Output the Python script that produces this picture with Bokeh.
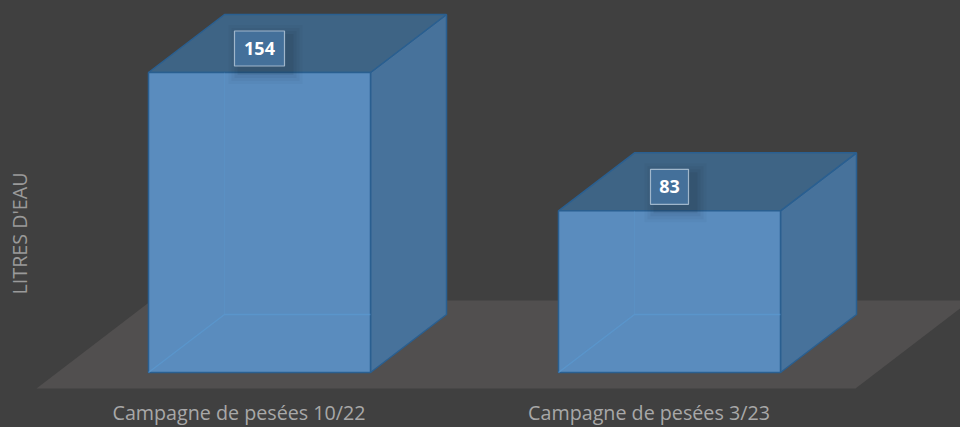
from math import pi
from bokeh.plotting import figure
from bokeh.models import Range1d, Label
from bokeh.core.properties import value
from bokeh.embed import file_html
from bokeh.resources import INLINE

categories = ["Campagne de pesées 10/22", "Campagne de pesées 3/23"]
litres = [154, 83]
axis_title = "LITRES D'EAU"

BG = "#404040"
FLOOR = "#514f4f"
FRONT = "#5b8ec2"
SIDE = "#47729b"
TOP = "#3e6485"
EDGE = "#2a5f90"
INNER = "#5a9bd4"

W, H = 960, 427
X0, XSTEP, BAR_W = 259, 410, 222     # first bar centre, spacing, width
Y0, PXU = 372, 300 / 154             # baseline pixel, pixels per litre
DX = 76 / XSTEP                      # depth in x units
DY = 58 / PXU                        # depth in y units
HW = BAR_W / XSTEP / 2

p = figure(width=W, height=H, output_backend="svg", toolbar_location=None,
           x_range=Range1d(-X0 / XSTEP, (W - X0) / XSTEP),
           y_range=Range1d((Y0 - H) / PXU, Y0 / PXU),
           min_border=0, margin=(0, 0, 0, 0),
           background_fill_color=None, border_fill_color=None, outline_line_color=None,
           styles={"background-color": BG})
p.grid.visible = False
p.xaxis.visible = False
p.yaxis.visible = False

# floor
fl_lo, fl_hi = -16 / PXU, 72 / PXU
fl_left = (36 - X0) / XSTEP
fl_right = (855 - X0) / XSTEP
fdx = 115 / XSTEP
p.patch([fl_left, fl_right, fl_right + fdx, fl_left + fdx], [fl_lo, fl_lo, fl_hi, fl_hi],
        fill_color=FLOOR, line_color=None)

idx = list(range(len(litres)))
# side faces
p.patches([[i + HW, i + HW + DX, i + HW + DX, i + HW] for i in idx],
          [[0, DY, v + DY, v] for v in litres],
          fill_color=SIDE, line_color=EDGE, line_width=1.5)
# top faces
p.patches([[i - HW, i - HW + DX, i + HW + DX, i + HW] for i in idx],
          [[v, v + DY, v + DY, v] for v in litres],
          fill_color=TOP, line_color=EDGE, line_width=1.5)
# front faces
p.vbar(x=idx, top=litres, bottom=0, width=2 * HW, fill_color=FRONT, fill_alpha=0.97,
       line_color=EDGE, line_width=1.5)
# hidden edges seen through the front
p.multi_line([[i - HW, i - HW + DX, i + HW] for i in idx], [[0, DY, DY] for v in litres],
             line_color=INNER, line_width=1.5, line_alpha=0.6)
p.multi_line([[i - HW + DX, i - HW + DX] for i in idx], [[DY, v] for v in litres],
             line_color=INNER, line_width=1, line_alpha=0.25)

# value labels
ly = [v + 24 / PXU for v in litres]
lw = [12 * len(str(v)) + 14 for v in litres]
for grow, a in [(24, 0.025), (18, 0.03), (12, 0.04), (6, 0.05)]:
    p.rect(x=[i + 6 / XSTEP for i in idx], y=[y - 6 / PXU for y in ly],
           width=[w + grow for w in lw], height=[35 + grow] * len(idx),
           width_units="screen", height_units="screen",
           fill_color="black", fill_alpha=a, line_color=None)
p.rect(x=idx, y=ly, width=lw, height=[35] * len(idx),
       width_units="screen", height_units="screen",
       fill_color="#44709a", line_color="#9fb6cb", line_width=1.2)
p.text(x=idx, y=ly, text=[str(v) for v in litres], text_align="center",
       text_baseline="middle", text_color="white", text_font=value("Open Sans"),
       text_font_style="bold", text_font_size="18px")

# category labels and axis title
off = -20.5 / XSTEP
p.text(x=[i + off for i in idx], y=[(Y0 - 412) / PXU] * len(idx), text=categories,
       text_align="center", text_baseline="middle", text_color="#a8a8a8",
       text_font=value("Open Sans"), text_font_size="19.7px")

p.add_layout(Label(x=19, y=H - 233, x_units="screen", y_units="screen", angle=pi / 2,
                   text=axis_title, text_align="center", text_baseline="middle",
                   text_font="Open Sans", text_font_size="19.7px", text_color="#9a9a9a"))

open("out.html", "w").write(file_html(p, INLINE))
